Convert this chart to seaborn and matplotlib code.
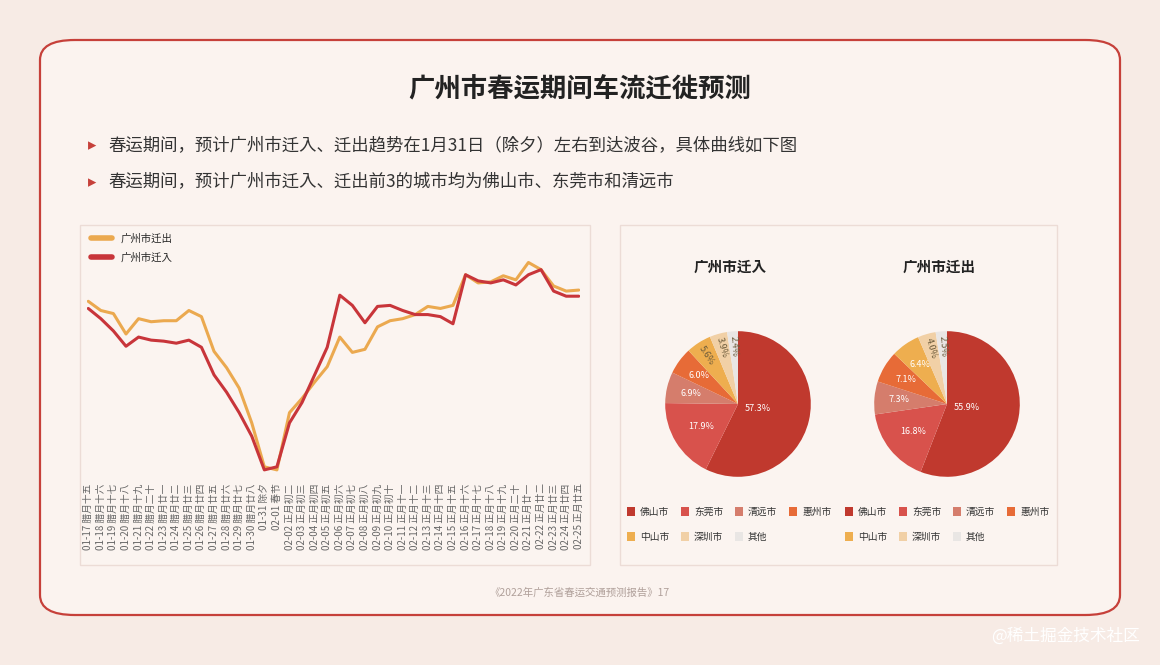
import matplotlib
matplotlib.use("Agg")
import matplotlib.pyplot as plt
from matplotlib import font_manager as fm
from matplotlib.patches import FancyBboxPatch, Rectangle
import seaborn as sns
import pandas as pd
import numpy as np

cands = sorted({f.name for f in fm.fontManager.ttflist if "CJK" in f.name})
cjk = next((c for c in cands if "SC" in c), cands[0] if cands else "DejaVu Sans")
sns.set_theme(style="white", font=cjk)
plt.rcParams["font.family"] = [cjk, "DejaVu Sans"]

dates = ["01-17","01-18","01-19","01-20","01-21","01-22","01-23","01-24","01-25","01-26",
         "01-27","01-28","01-29","01-30","01-31","02-01","02-02","02-03","02-04","02-05",
         "02-06","02-07","02-08","02-09","02-10","02-11","02-12","02-13","02-14","02-15",
         "02-16","02-17","02-18","02-19","02-20","02-21","02-22","02-23","02-24","02-25"]
lunar = ["腊月十五","腊月十六","腊月十七","腊月十八","腊月十九","腊月二十","腊月廿一","腊月廿二",
         "腊月廿三","腊月廿四","腊月廿五","腊月廿六","腊月廿七","腊月廿八","除夕","春节",
         "正月初二","正月初三","正月初四","正月初五","正月初六","正月初七","正月初八","正月初九",
         "正月初十","正月十一","正月十二","正月十三","正月十四","正月十五","正月十六","正月十七",
         "正月十八","正月十九","正月二十","正月廿一","正月廿二","正月廿三","正月廿四","正月廿五"]
inflow = [195,185,173,158,167,164,163,161,164,157,130,113,93,70,37,40,83,103,130,157,
          208,198,181,197,198,193,189,189,187,180,228,222,220,223,218,228,233,212,207,207]
outflow = [202,193,190,170,185,182,183,183,193,187,153,137,117,83,40,37,93,107,123,138,
           167,152,155,177,183,185,189,197,195,198,228,220,221,227,223,240,233,217,212,213]

pie_labels = ["佛山市","东莞市","清远市","惠州市","中山市","深圳市","其他"]
pie_in = [57.3,17.9,6.9,6.0,5.6,3.9,2.4]
pie_out = [55.9,16.8,7.3,7.1,6.4,4.0,2.5]
pie_colors = ["#c0392e","#d8524c","#d57d6c","#e76b37","#eeae4f","#f1d0a6","#e9e6e4"]

W, H = 1160, 665
fig = plt.figure(figsize=(11.6, 6.65), dpi=100)
fig.patch.set_facecolor("#f7ebe5")

def fx(x): return x / W
def fy(y): return 1 - y / H

fig.patches.append(FancyBboxPatch((fx(40), fy(615)), fx(1080), (575) / H,
    boxstyle="round,pad=0,rounding_size=0.03", transform=fig.transFigure,
    facecolor="#fbf3ef", edgecolor="#c6403a", lw=1.6, zorder=-10))
for (x0, y0, x1, y1) in [(80, 225, 590, 565), (620, 225, 1057, 565)]:
    fig.patches.append(Rectangle((fx(x0), fy(y1)), fx(x1 - x0), (y1 - y0) / H,
        transform=fig.transFigure, facecolor="#fbf4f0", edgecolor="#ecdcd6", lw=1, zorder=-9))

fig.text(0.5, fy(90), "广州市春运期间车流迁徙预测", ha="center", va="center",
         fontsize=19, fontweight="bold", color="#222222")
fig.text(fx(88), fy(145), "▸", color="#c6403a", fontsize=12, va="center", family="DejaVu Sans")
fig.text(fx(108), fy(145), "春运期间，预计广州市迁入、迁出趋势在1月31日（除夕）左右到达波谷，具体曲线如下图",
         fontsize=12.5, va="center", color="#333333")
fig.text(fx(88), fy(182), "▸", color="#c6403a", fontsize=12, va="center", family="DejaVu Sans")
fig.text(fx(108), fy(182), "春运期间，预计广州市迁入、迁出前3的城市均为佛山市、东莞市和清远市",
         fontsize=12.5, va="center", color="#333333")
fig.text(0.5, fy(592), "《2022年广东省春运交通预测报告》17", ha="center", va="center",
         fontsize=7.5, color="#b0a09a")
fig.text(fx(1140), fy(636), "@稀土掘金技术社区", ha="right", va="center",
         fontsize=12, color="#ffffff")

ax = fig.add_axes([fx(87), fy(475), fx(580 - 87), (475 - 240) / H])
df = pd.DataFrame({"x": list(range(len(dates))) * 2,
                   "v": outflow + inflow,
                   "s": ["广州市迁出"] * len(dates) + ["广州市迁入"] * len(dates)})
sns.lineplot(data=df, x="x", y="v", hue="s", palette=["#eba94f", "#c8353a"],
             linewidth=2.2, ax=ax)
ax.set_facecolor("none")
for s in ax.spines.values():
    s.set_visible(False)
ax.set_xlim(-0.1, len(dates) - 0.9)
ax.set_ylim(32, 262)
ax.set_yticks([])
ax.set_xlabel(""); ax.set_ylabel("")
ax.set_xticks(range(len(dates)))
ax.set_xticklabels([f"{d} {l}" for d, l in zip(dates, lunar)], rotation=90, fontsize=7, color="#666666")
ax.tick_params(axis="x", length=0, pad=6)
leg = ax.legend(loc="upper left", bbox_to_anchor=(-0.01, 1.07), frameon=False, fontsize=7.5,
                handlelength=2.0, labelspacing=0.9)
for l in leg.get_lines():
    l.set_linewidth(4)

for cx, vals, title, lx0 in [(738, pie_in, "广州市迁入", 627), (947, pie_out, "广州市迁出", 845)]:
    fig.text(fx(cx - 8), fy(267), title, ha="center", va="center", fontsize=10.5,
             fontweight="bold", color="#222222")
    pax = fig.add_axes([fx(cx - 91), fy(495), fx(182), 182 / H])
    wedges, texts = pax.pie(vals, colors=pie_colors, startangle=90, counterclock=False,
                            wedgeprops=dict(linewidth=0))
    for w, v in zip(wedges, vals):
        mid = (w.theta1 + w.theta2) / 2
        ang = np.deg2rad(mid)
        r = 0.28 if v > 50 else (0.6 if v > 10 else 0.66 if v > 5.9 else 0.8)
        col = "white" if v > 5.9 else "#6b5a3a"
        pax.text(r * np.cos(ang), r * np.sin(ang), f"{v:.1f}%", ha="center", va="center",
                 fontsize=6.5, color=col, rotation=(mid - 180) if v < 6 else 0)
    pax.set_aspect("equal")
    for i, (lab, c) in enumerate(zip(pie_labels, pie_colors)):
        row, col = divmod(i, 4)
        x = lx0 + col * 54
        y = 512 + row * 25
        fig.patches.append(Rectangle((fx(x), fy(y) - 0.006), fx(8), 9 / H,
            transform=fig.transFigure, facecolor=c, edgecolor="none"))
        fig.text(fx(x + 13), fy(y), lab, fontsize=7, va="center", color="#333333")

fig.savefig("out.png", dpi=100, facecolor=fig.get_facecolor())
